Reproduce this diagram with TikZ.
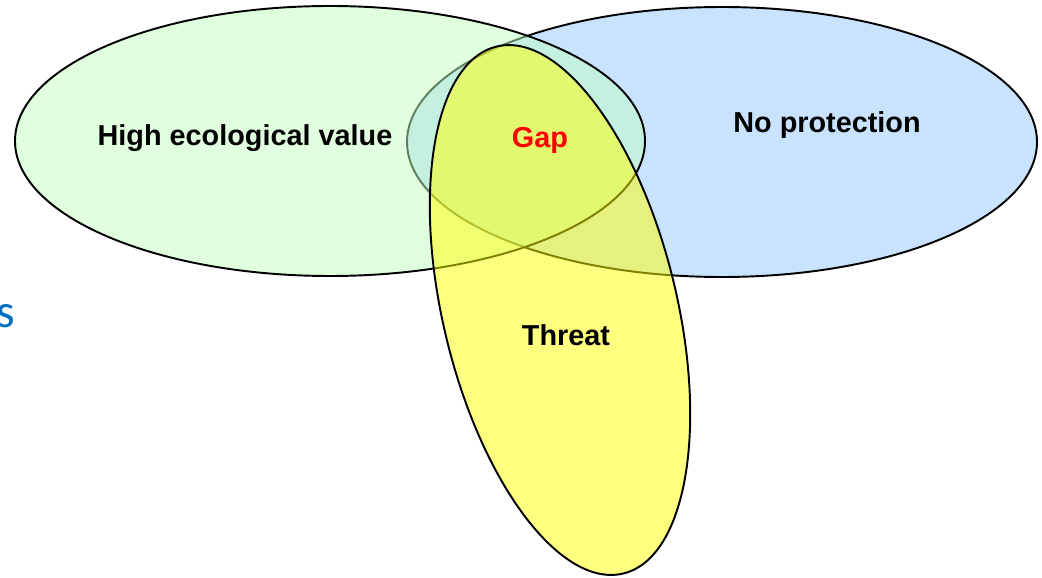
\documentclass[tikz,border=0pt]{standalone}
\usepackage{fontspec}
\setmainfont{Liberation Sans}
\newfontfamily\titlefont{Carlito}
\usepackage{tikz}
\usepackage{xcolor}
\definecolor{protcolor}{HTML}{C9E3FF}
\definecolor{ecocolor}{HTML}{C0FFC0}
\definecolor{threatcolor}{HTML}{FFFF00}
\definecolor{titleblue}{HTML}{0070C0}

\begin{document}
\begin{tikzpicture}[
    set/.style={draw=black, line width=1.1pt},
    setlabel/.style={font=\fontsize{16.4}{19}\selectfont\bfseries}
  ]
    \useasboundingbox (0,0) rectangle (20.84,11.54);

    % No protection
    \fill[protcolor] (14.44,8.7) ellipse (6.3 and 2.7);
    \draw[set] (14.44,8.7) ellipse (6.3 and 2.7);
    % High ecological value (see-through)
    \draw[set, fill=ecocolor, fill opacity=0.5] (6.6,8.72) ellipse (6.3 and 2.7);
    % Threat (see-through, tilted)
    \draw[set, fill=threatcolor, fill opacity=0.5, rotate around={13.5:(11.2,5.34)}]
        (11.2,5.34) ellipse (2.34 and 5.42);

    % Labels
    \node[setlabel] (eco) at (4.9,8.78) {High ecological value};
    \node[setlabel] (noprot) at (16.54,9.04) {No protection};
    \node[setlabel, text=red] (gap) at (10.8,8.74) {Gap};
    \node[setlabel] (threat) at (11.32,4.84) {Threat};

    % cut-off title letter
    \node[anchor=base east, inner sep=0pt, text=titleblue,
          font=\titlefont\fontsize{27}{32}\selectfont] (title) at (0.3,5.0) {s};
\end{tikzpicture}
\end{document}
